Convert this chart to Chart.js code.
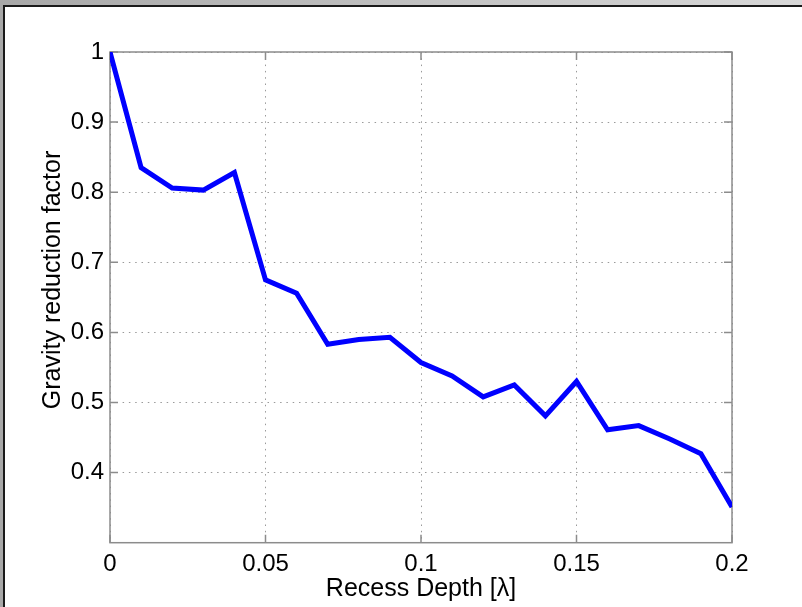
<!DOCTYPE html>
<html>
<head>
<meta charset="utf-8">
<script src="https://cdn.jsdelivr.net/npm/chart.js@4.4.1/dist/chart.umd.min.js"></script>
<style>
  body { margin: 0; }
  #marco { position: relative; width: 802px; height: 607px; background: linear-gradient(to right, #a8a8a8, #d8d8d8); overflow: hidden; }
  #fondo { position: absolute; left: 3px; top: 5px; right: 0; bottom: 0; border-left: 2px solid #1a1a1a; border-top: 2px solid #1a1a1a; background: #fff; }
  #grafica { position: absolute; left: 0; top: 0; }
</style>
</head>
<body>
<div id="marco">
  <div id="fondo"></div>
  <canvas id="grafica" width="802" height="607"></canvas>
</div>
<script>
// Datos
const depth = [0, 0.01, 0.02, 0.03, 0.04, 0.05, 0.06, 0.07, 0.08, 0.09, 0.1,
               0.11, 0.12, 0.13, 0.14, 0.15, 0.16, 0.17, 0.18, 0.19, 0.2];
const factor = [1.0, 0.835, 0.806, 0.803, 0.828, 0.675, 0.656, 0.583, 0.590, 0.593, 0.557,
                0.538, 0.508, 0.525, 0.481, 0.530, 0.461, 0.467, 0.448, 0.427, 0.351];

const xTicks = [0, 0.05, 0.1, 0.15, 0.2];
const xTickLabels = ['0', '0.05', '0.1', '0.15', '0.2'];
const yTicks = [0.4, 0.5, 0.6, 0.7, 0.8, 0.9, 1];
const yTickLabels = ['0.4', '0.5', '0.6', '0.7', '0.8', '0.9', '1'];

const FUENTE = "'Liberation Sans', Arial, sans-serif";
const GRIS_EJE = '#8c8c8c';

// Caja de ejes y marcas hacia dentro (estilo MATLAB)
const cajaEjes = {
    id: 'cajaEjes',
    beforeDatasetsDraw(chart) {
        const { ctx, chartArea: a, scales } = chart;
        const largo = 8;
        ctx.save();
        ctx.strokeStyle = GRIS_EJE;
        ctx.lineWidth = 1.5;
        ctx.strokeRect(a.left, a.top, a.right - a.left, a.bottom - a.top);
        ctx.beginPath();
        xTicks.forEach(v => {
            const px = scales.x.getPixelForValue(v);
            ctx.moveTo(px, a.bottom); ctx.lineTo(px, a.bottom - largo);
            ctx.moveTo(px, a.top); ctx.lineTo(px, a.top + largo);
        });
        yTicks.forEach(v => {
            const py = scales.y.getPixelForValue(v);
            ctx.moveTo(a.left, py); ctx.lineTo(a.left + largo, py);
            ctx.moveTo(a.right, py); ctx.lineTo(a.right - largo, py);
        });
        ctx.stroke();
        ctx.restore();
    }
};

const ctx = document.getElementById('grafica').getContext('2d');

new Chart(ctx, {
    type: 'line',
    data: {
        datasets: [{
            data: factor.map((f, i) => ({ x: depth[i], y: f })),
            borderColor: '#0000ff',
            borderWidth: 5,
            pointRadius: 0,
            tension: 0,
            fill: false,
            clip: 0
        }]
    },
    options: {
        responsive: false,
        animation: false,
        layout: { padding: { left: 38, right: 70, top: 52, bottom: 3 } },
        plugins: {
            legend: { display: false },
            tooltip: { enabled: false }
        },
        scales: {
            x: {
                type: 'linear',
                min: 0,
                max: 0.2,
                afterBuildTicks: s => { s.ticks = xTicks.map(v => ({ value: v })); },
                afterFit: s => { s.height = 61.3; },
                ticks: {
                    padding: 7,
                    color: '#000',
                    font: { family: FUENTE, size: 24 },
                    maxRotation: 0,
                    callback: v => xTickLabels[xTicks.indexOf(v)]
                },
                grid: { color: '#9a9a9a', lineWidth: 1, drawTicks: false },
                border: { display: false, dash: [1.5, 4.8] },
                title: {
                    display: true,
                    text: 'Recess Depth [λ]',
                    color: '#000',
                    font: { family: FUENTE, size: 25 },
                    padding: 0
                }
            },
            y: {
                min: 0.3,
                max: 1,
                afterBuildTicks: s => { s.ticks = yTicks.map(v => ({ value: v })); },
                afterFit: s => { s.width = 72; },
                ticks: {
                    padding: 6,
                    color: '#000',
                    font: { family: FUENTE, size: 24 },
                    callback: v => yTickLabels[yTicks.indexOf(v)]
                },
                grid: { color: '#9a9a9a', lineWidth: 1, drawTicks: false },
                border: { display: false, dash: [1.5, 4.8] },
                title: {
                    display: true,
                    // espacios delante: en la figura el rotulo queda algo por encima del centro
                    text: '     Gravity reduction factor',
                    color: '#000',
                    font: { family: FUENTE, size: 25 },
                    padding: 0
                }
            }
        }
    },
    plugins: [cajaEjes]
});
</script>
</body>
</html>
